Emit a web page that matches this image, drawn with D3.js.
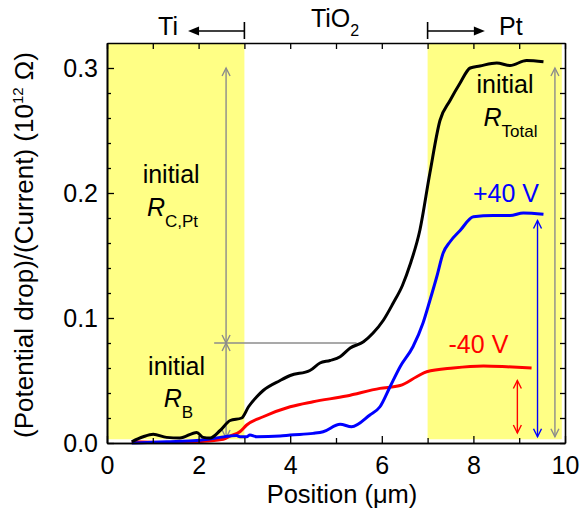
<!DOCTYPE html>
<html>
<head>
<script src="https://d3js.org/d3.v7.min.js"></script>
<style>
  body { margin: 0; background: #fff; }
  text { font-family: "Liberation Sans", Arial, Helvetica, sans-serif; }
</style>
</head>
<body>
<div id="chart"></div>
<script>
// values
var blackX = [0.54, 0.79, 1.01, 1.30, 1.59, 1.96, 2.10, 2.25, 2.47, 2.69, 2.94, 3.09, 3.27, 3.41, 3.78, 4.0, 4.43, 4.65, 4.87, 5.09, 5.31, 5.6, 5.81, 6.03, 6.25, 6.45, 6.62, 6.83, 7.05, 7.27, 7.49, 7.71, 7.93, 8.14, 8.51, 8.80, 9.16, 9.53];
var blackY = [0.001, 0.005, 0.007, 0.0045, 0.004, 0.0085, 0.0045, 0.004, 0.010, 0.018, 0.020, 0.029, 0.037, 0.042, 0.050, 0.054, 0.058, 0.064, 0.066, 0.069, 0.076, 0.081, 0.088, 0.098, 0.112, 0.126, 0.143, 0.170, 0.216, 0.258, 0.274, 0.288, 0.300, 0.3016, 0.304, 0.302, 0.306, 0.305];

var redX = [0.54, 1.30, 1.96, 2.54, 2.69, 2.90, 3.05, 3.41, 4.0, 4.5, 5.23, 5.96, 6.40, 6.76, 6.98, 7.56, 8.22, 8.73, 9.27];
var redY = [0.001, 0.0005, 0.001, 0.003, 0.0056, 0.009, 0.0144, 0.021, 0.029, 0.033, 0.0376, 0.0437, 0.046, 0.053, 0.057, 0.060, 0.0616, 0.061, 0.060];

var blueX = [0.54, 1.30, 1.96, 2.47, 2.69, 2.83, 2.90, 3.05, 3.12, 3.27, 3.78, 4.0, 4.5, 4.72, 5.09, 5.34, 5.74, 5.96, 6.18, 6.40, 6.68, 6.90, 7.05, 7.20, 7.34, 7.49, 7.71, 8.0, 8.43, 8.80, 9.09, 9.53];
var blueY = [0.0, 0.001, 0.002, 0.0045, 0.0056, 0.006, 0.005, 0.005, 0.0064, 0.005, 0.0056, 0.0064, 0.0077, 0.009, 0.015, 0.013, 0.0224, 0.029, 0.045, 0.061, 0.077, 0.096, 0.114, 0.133, 0.152, 0.161, 0.170, 0.181, 0.182, 0.182, 0.184, 0.183];

var xTicks = [0, 2, 4, 6, 8, 10];
var xMinor = [1, 3, 5, 7, 9];
var yTicks = [0, 0.1, 0.2, 0.3];
var yMinor = [0.02, 0.04, 0.06, 0.08, 0.12, 0.14, 0.16, 0.18, 0.22, 0.24, 0.26, 0.28];
var regions = [[0, 3], [7, 9.93]];

var width = 580, height = 514;
var margin = { top: 43, right: 15, bottom: 71, left: 107 };

var svg = d3.select('#chart').append('svg')
    .attr('width', width)
    .attr('height', height);

var x = d3.scaleLinear().domain([0, 10]).range([margin.left, width - margin.right]);
var y = d3.scaleLinear().domain([0, 0.32]).range([height - margin.bottom, margin.top]);

// yellow metal regions
svg.selectAll('.region')
    .data(regions)
    .enter().append('rect')
    .attr('x', function(d) { return x(d[0]); })
    .attr('width', function(d) { return x(d[1]) - x(d[0]); })
    .attr('y', y(0.32))
    .attr('height', y(0.003) - y(0.32))
    .attr('fill', '#ffff85');

// arrows with open heads
function vArrow(xv, y0, y1, color) {
  var g = svg.append('g').attr('stroke', color).attr('stroke-width', 1.4).attr('fill', 'none');
  var px = x(xv), pa = y(y0), pb = y(y1);
  g.append('line').attr('x1', px).attr('x2', px).attr('y1', pa).attr('y2', pb);
  g.append('path').attr('d', 'M' + (px - 4) + ',' + (pa + 8) + 'L' + px + ',' + pa + 'L' + (px + 4) + ',' + (pa + 8));
  g.append('path').attr('d', 'M' + (px - 4) + ',' + (pb - 8) + 'L' + px + ',' + pb + 'L' + (px + 4) + ',' + (pb - 8));
}

svg.append('line')
    .attr('x1', x(2.34)).attr('x2', x(5.45))
    .attr('y1', y(0.08)).attr('y2', y(0.08))
    .attr('stroke', '#8c8c8c').attr('stroke-width', 1.4);

vArrow(2.6, 0.3, 0.08, '#8c8c8c');
vArrow(2.6, 0.08, 0.004, '#8c8c8c');
vArrow(9.78, 0.3, 0.005, '#8c8c8c');
vArrow(9.40, 0.178, 0.005, '#0000ff');
vArrow(8.96, 0.050, 0.008, '#ff0000');

// curves
var line = d3.line()
    .x(function(d) { return x(d[0]); })
    .y(function(d) { return y(d[1]); })
    .curve(d3.curveMonotoneX);

var series = [
  { xs: redX, ys: redY, color: '#ff0000' },
  { xs: blueX, ys: blueY, color: '#0000ff' },
  { xs: blackX, ys: blackY, color: '#000000' }
];

series.forEach(function(s) {
  svg.append('path')
      .datum(d3.zip(s.xs, s.ys))
      .attr('d', line)
      .attr('fill', 'none')
      .attr('stroke', s.color)
      .attr('stroke-width', 3)
      .attr('stroke-linejoin', 'round');
});

// axes, ticks pointing inward
var fmt = d3.format('.1f');
var h = height - margin.bottom;

svg.append('g').attr('transform', 'translate(0,' + h + ')')
    .call(d3.axisBottom(x).tickValues(xTicks).tickSizeInner(-7).tickSizeOuter(0).tickPadding(13));
svg.append('g').attr('transform', 'translate(0,' + h + ')')
    .call(d3.axisBottom(x).tickValues(xMinor).tickSizeInner(-5).tickSizeOuter(0).tickFormat(''));
svg.append('g').attr('transform', 'translate(0,' + margin.top + ')')
    .call(d3.axisTop(x).tickValues(xTicks.concat(xMinor)).tickSizeInner(-6).tickSizeOuter(0).tickFormat(''));

svg.append('g').attr('transform', 'translate(' + margin.left + ',0)')
    .call(d3.axisLeft(y).tickValues(yTicks).tickSizeInner(-7).tickSizeOuter(0).tickPadding(9).tickFormat(fmt));
svg.append('g').attr('transform', 'translate(' + margin.left + ',0)')
    .call(d3.axisLeft(y).tickValues(yMinor).tickSizeInner(-4).tickSizeOuter(0).tickFormat(''));
svg.append('g').attr('transform', 'translate(' + (width - margin.right) + ',0)')
    .call(d3.axisRight(y).tickValues(yTicks.concat(yMinor)).tickSizeInner(-5).tickSizeOuter(0).tickFormat(''));

svg.selectAll('.domain').attr('stroke', '#000').attr('stroke-width', 1.6);
svg.selectAll('.tick line').attr('stroke', '#000').attr('stroke-width', 1.3);
svg.selectAll('.tick text')
    .style('font-size', '25px')
    .style('font-family', '"Liberation Sans", Arial, sans-serif')
    .attr('fill', '#000');

// axis titles
svg.append('text')
    .attr('x', x(5) + 6)
    .attr('y', 503)
    .attr('text-anchor', 'middle')
    .style('font-size', '25.5px')
    .text('Position (\u03bcm)');

var yl = svg.append('text')
    .attr('transform', 'translate(33,' + 245 + ') rotate(-90)')
    .attr('text-anchor', 'middle')
    .style('font-size', '26px');
yl.append('tspan').text('(Potential drop)/(Current) (10');
yl.append('tspan').attr('dy', -10).style('font-size', '15px').text('12');
yl.append('tspan').attr('dy', 10).text(' \u03a9)');

// top material labels
var topG = svg.append('g');
topG.append('text').attr('x', x(1.55)).attr('y', 35).attr('text-anchor', 'end')
    .style('font-size', '25px').text('Ti');
topG.append('line').attr('x1', x(3)).attr('x2', x(1.95)).attr('y1', 31).attr('y2', 31)
    .attr('stroke', '#000').attr('stroke-width', 1.6);
topG.append('path').attr('d', 'M' + x(1.77) + ',31L' + (x(1.77) + 11) + ',26.5L' + (x(1.77) + 11) + ',35.5Z');
topG.append('line').attr('x1', x(3)).attr('x2', x(3)).attr('y1', 22).attr('y2', 39)
    .attr('stroke', '#000').attr('stroke-width', 1.6);

var tio = topG.append('text').attr('x', x(4.98)).attr('y', 27).attr('text-anchor', 'middle')
    .style('font-size', '25px');
tio.append('tspan').text('TiO');
tio.append('tspan').attr('dy', 9).style('font-size', '16px').text('2');

topG.append('line').attr('x1', x(7)).attr('x2', x(8.1)).attr('y1', 31).attr('y2', 31)
    .attr('stroke', '#000').attr('stroke-width', 1.6);
topG.append('path').attr('d', 'M' + x(8.25) + ',31L' + (x(8.25) - 11) + ',26.5L' + (x(8.25) - 11) + ',35.5Z');
topG.append('line').attr('x1', x(7)).attr('x2', x(7)).attr('y1', 22).attr('y2', 39)
    .attr('stroke', '#000').attr('stroke-width', 1.6);
topG.append('text').attr('x', x(8.56)).attr('y', 35)
    .style('font-size', '25px').text('Pt');

// in-plot annotations
function label(xv, yv, txt, color) {
  return svg.append('text').attr('x', x(xv)).attr('y', y(yv))
      .attr('text-anchor', 'middle').attr('fill', color)
      .style('font-size', '25px').text(txt);
}
function rLabel(xv, yv, sub) {
  var t = svg.append('text').attr('x', x(xv)).attr('y', y(yv))
      .attr('text-anchor', 'middle').style('font-size', '25px');
  t.append('tspan').style('font-style', 'italic').text('R');
  t.append('tspan').attr('dy', 11).style('font-size', '17px').text(sub);
}

label(1.40, 0.208, 'initial', '#000');
rLabel(1.43, 0.1816, 'C,Pt');
label(1.52, 0.0544, 'initial', '#000');
rLabel(1.56, 0.0288, 'B');
label(8.69, 0.28, 'initial', '#000');
rLabel(8.81, 0.2536, 'Total');
label(8.71, 0.1928, '+40 V', '#0000ff');
label(8.11, 0.072, '-40 V', '#ff0000');
</script>
</body>
</html>
